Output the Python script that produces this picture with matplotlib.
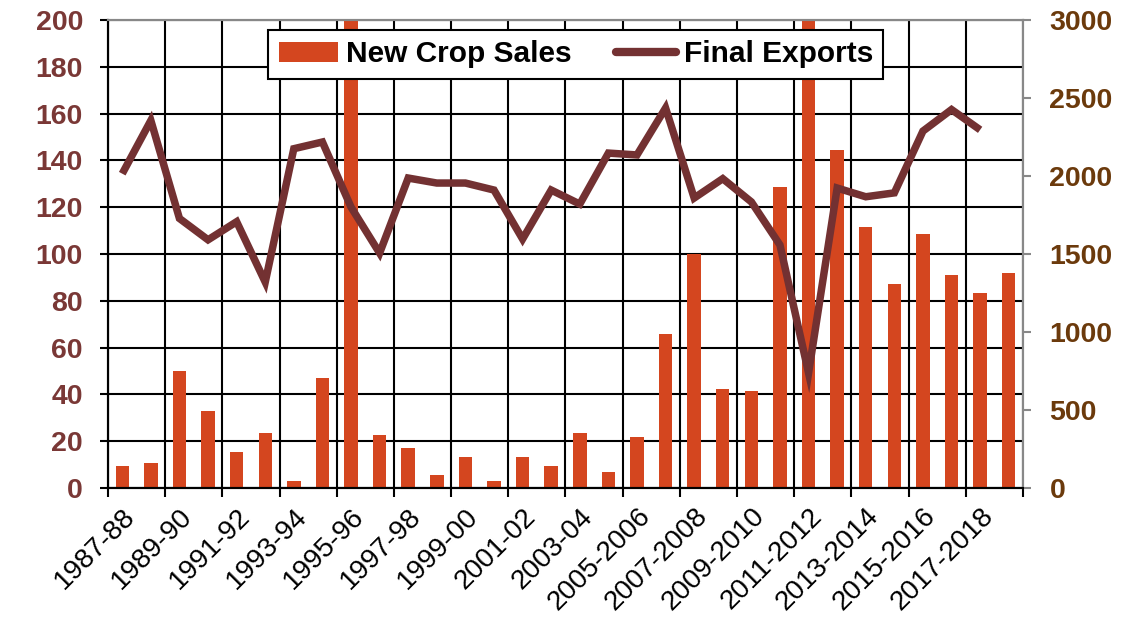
import matplotlib
matplotlib.use("Agg")
import matplotlib.pyplot as plt
from matplotlib.patches import Patch
from matplotlib.lines import Line2D
import numpy as np

seasons = ["1987-88", "1988-89", "1989-90", "1990-91", "1991-92", "1992-93", "1993-94",
           "1994-95", "1995-96", "1996-97", "1997-98", "1998-99", "1999-00", "2000-01",
           "2001-02", "2002-03", "2003-04", "2004-05", "2005-2006", "2006-2007",
           "2007-2008", "2008-2009", "2009-2010", "2010-2011", "2011-2012", "2012-2013",
           "2013-2014", "2014-2015", "2015-2016", "2016-2017", "2017-2018", "2018-2019"]

new_crop_sales = [9.6, 10.6, 49.8, 33.0, 15.2, 23.7, 3.2, 47.0, 230.0, 22.8, 17.1, 5.7,
                  13.4, 3.2, 13.4, 9.6, 23.7, 6.8, 21.7, 65.8, 100.0, 42.3, 41.3, 128.6,
                  260.0, 144.4, 111.5, 87.0, 108.5, 91.0, 83.3, 92.0]

final_exports = [2015, 2356, 1728, 1591, 1707, 1320, 2175, 2218, 1801, 1506, 1987, 1955,
                 1955, 1910, 1596, 1910, 1820, 2147, 2135, 2436, 1859, 1983, 1834, 1558,
                 737, 1923, 1867, 1892, 2288, 2426, 2296]

bar_color = "#d4461f"
line_color = "#733132"
left_color = "#7a3836"
right_color = "#6b3a0c"

plt.rcParams['font.family'] = ['Liberation Sans', 'DejaVu Sans']

fig = plt.figure(figsize=(11.21, 6.2), dpi=100)
ax = fig.add_axes([0.0963, 0.2129, 0.8163, 0.7548])
ax2 = ax.twinx()

x = np.arange(len(seasons))
ax.bar(x, new_crop_sales, width=0.47, color=bar_color, zorder=2)
ax2.plot(np.arange(len(final_exports)), final_exports, color=line_color, lw=5.4,
         solid_joinstyle='miter', solid_capstyle='butt', zorder=3)

ax.set_xlim(-0.5, len(seasons) - 0.5)
ax.set_ylim(0, 200)
ax2.set_ylim(0, 3000)

ax.set_axisbelow(True)
ax.set_yticks(np.arange(0, 201, 20))
ax.tick_params(axis='y', direction='out', length=6, width=1.5, color='black',
               labelsize=20.5, labelcolor=left_color, pad=12)
for t in ax.get_yticklabels():
    t.set_fontweight('bold')
ax.grid(axis='y', color='black', lw=1.5)

# major x ticks at boundaries (every 2 categories), labels at category centers
bounds = np.arange(-0.5, len(seasons), 2)
ax.set_xticks(bounds)
ax.set_xticklabels([])
ax.tick_params(axis='x', which='major', direction='out', length=6.5, width=1.5, color='black')
ax.grid(axis='x', which='major', color='black', lw=1.5)
ax.set_xticks(x[::2], minor=True)
ax.set_xticklabels(seasons[::2], minor=True, rotation=45, ha='right',
                   rotation_mode='anchor', fontsize=20)
ax.tick_params(axis='x', which='minor', length=0, pad=11)

ax2.set_yticks(np.arange(0, 3001, 500))
ax2.tick_params(axis='y', direction='out', length=6, width=1.5, color='#888888',
                labelsize=20.5, labelcolor=right_color, pad=13)
for t in ax2.get_yticklabels():
    t.set_fontweight('bold')

for a in (ax, ax2):
    a.spines['left'].set_color('black')
    a.spines['bottom'].set_color('black')
    a.spines['top'].set_color('#888888')
    a.spines['right'].set_color('#888888')
    for s in a.spines.values():
        s.set_linewidth(1.5)

handles = [Patch(facecolor=bar_color, edgecolor='none'),
           Line2D([0], [0], color=line_color, lw=6, solid_capstyle='round')]
leg = ax2.legend(handles, ["New Crop Sales", "Final Exports"], ncol=2,
                 loc='center', bbox_to_anchor=(0.5137, 0.9121),
                 bbox_transform=fig.transFigure,
                 frameon=True, fancybox=False, edgecolor='black', framealpha=1,
                 prop={'weight': 'bold', 'size': 21.5}, handlelength=2.0,
                 handleheight=0.65, handletextpad=0.25, columnspacing=1.5,
                 borderpad=0.35, borderaxespad=0.0)
leg.get_frame().set_linewidth(1.5)
leg.set_zorder(10)

fig.savefig("out.png", dpi=100)
